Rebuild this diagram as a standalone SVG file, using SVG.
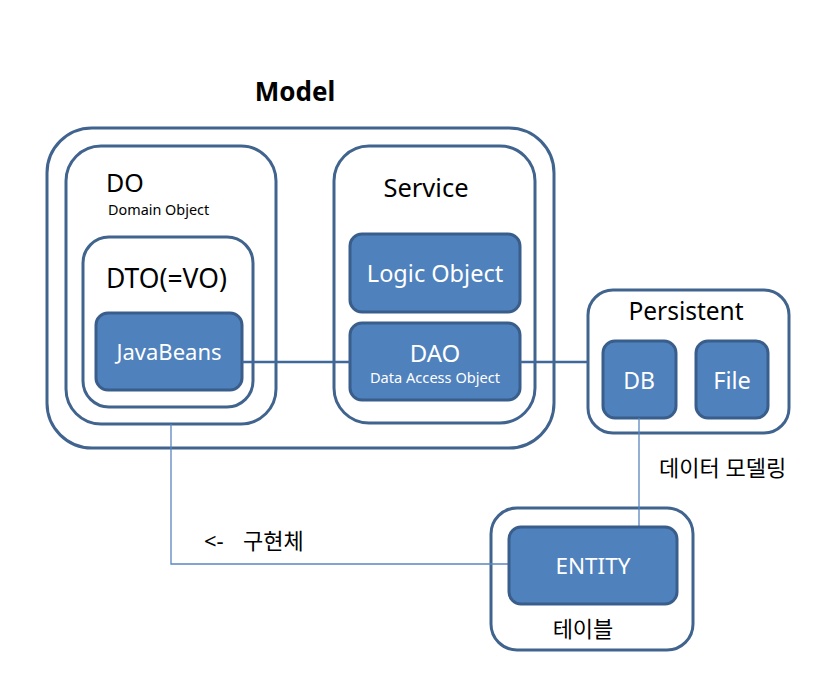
<svg xmlns="http://www.w3.org/2000/svg" width="834" height="674" viewBox="0 0 834 674">
<style>
.frame{fill:#fff;stroke:#41648f;stroke-width:3}
.node{fill:#4f81bd;stroke:#3a5e8b;stroke-width:3}
.t{font-family:"Noto Sans","Noto Sans CJK KR",sans-serif;fill:#000}
.w{font-family:"Noto Sans","Noto Sans CJK KR",sans-serif;fill:#fff;text-anchor:middle}
.thick{stroke:#41689a;stroke-width:2.5;fill:none}
.thin{stroke:#5a86bf;stroke-width:1.3;fill:none}
</style>
<rect width="834" height="674" fill="#fff"/>
<text class="t" x="295" y="101" font-size="26" font-weight="bold" text-anchor="middle">Model</text>
<g id="model">
<rect class="frame" x="47" y="128" width="507" height="320" rx="45"/>
</g>
<g id="do">
<rect class="frame" x="66" y="146" width="210" height="278" rx="35"/>
<text class="t" x="106" y="192" font-size="25">DO</text>
<text class="t" x="108" y="215" font-size="14.4">Domain Object</text>
</g>
<g id="dto">
<rect class="frame" x="83" y="237" width="170" height="170" rx="26"/>
<text class="t" x="106" y="288" font-size="26.5">DTO(=VO)</text>
</g>
<g id="javabeans">
<rect class="node" x="96" y="313" width="146" height="77" rx="12"/>
<text class="w" x="169" y="360" font-size="22">JavaBeans</text>
</g>
<g id="service">
<rect class="frame" x="334" y="146" width="201" height="277" rx="35"/>
<text class="t" x="426" y="197" font-size="25.5" text-anchor="middle">Service</text>
</g>
<g id="logic">
<rect class="node" x="350" y="234" width="170" height="78" rx="12"/>
<text class="w" x="435" y="282" font-size="23.5">Logic Object</text>
</g>
<g id="dao">
<rect class="node" x="350" y="323" width="170" height="77" rx="12"/>
<text class="w" x="435" y="362" font-size="24">DAO</text>
<text class="w" x="435" y="383" font-size="14.6">Data Access Object</text>
</g>
<g id="persistent">
<rect class="frame" x="588" y="290" width="201" height="143" rx="25"/>
<text class="t" x="686" y="320" font-size="24.5" text-anchor="middle">Persistent</text>
</g>
<g id="db">
<rect class="node" x="603" y="341" width="73" height="77" rx="12"/>
<text class="w" x="639" y="389" font-size="23">DB</text>
</g>
<g id="file">
<rect class="node" x="696" y="341" width="72" height="77" rx="12"/>
<text class="w" x="732" y="389" font-size="23.5">File</text>
</g>
<g id="table">
<rect class="frame" x="491" y="508" width="202" height="142" rx="26"/>
<text class="t" x="583" y="637" font-size="22" text-anchor="middle">테이블</text>
</g>
<g id="connectors">
<line class="thick" x1="242" y1="362" x2="350" y2="362"/>
<line class="thick" x1="520" y1="362" x2="588" y2="362"/>
<polyline class="thin" points="171,424 171,564 509,564"/>
<line class="thin" x1="639" y1="418" x2="639" y2="527"/>
<text class="t" x="204" y="549" font-size="22">&lt;-<tspan x="243">구현체</tspan></text>
<text class="t" x="659" y="476" font-size="22">데이터 모델링</text>
</g>
<g id="entity">
<rect class="node" x="509" y="527" width="168" height="77" rx="12"/>
<text class="w" x="593" y="574" font-size="22.5">ENTITY</text>
</g>
</svg>
